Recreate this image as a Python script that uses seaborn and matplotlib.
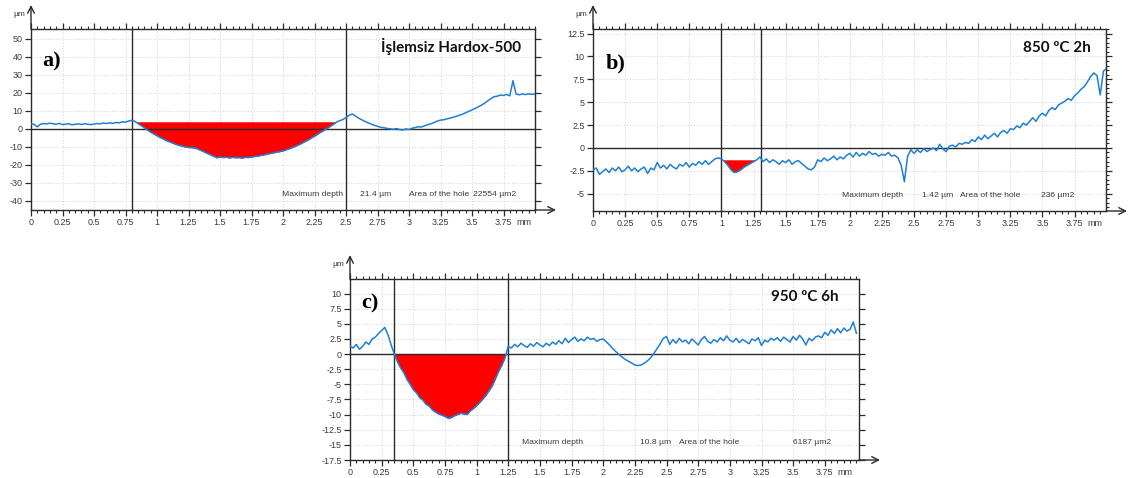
import numpy as np
import pandas as pd
import matplotlib
matplotlib.use("Agg")
import matplotlib.pyplot as plt
from matplotlib.ticker import MultipleLocator
import seaborn as sns

# ---------------- data ----------------
STEP_MM = 0.025  # sampling step of the profiles (mm)

# a) İşlemsiz Hardox-500 profile (µm)
a_depth = [3.0, 2.5, 1.2, 2.6, 3.0, 2.8, 3.2, 2.9, 2.6, 3.1,
           2.4, 2.7, 2.9, 2.3, 2.6, 2.8, 2.5, 2.9, 2.6, 2.4,
           2.7, 3.0, 2.8, 3.3, 3.0, 3.4, 3.1, 3.6, 3.4, 4.0,
           3.8, 4.4, 4.8, 4.2, 3.0, 1.8, 0.6, -0.6, -1.8, -2.8,
           -3.8, -4.8, -5.6, -6.5, -7.2, -7.9, -8.6, -9.1, -9.6, -10.0,
           -10.3, -10.4, -10.6, -11.2, -12.0, -12.8, -13.6, -14.4, -15.2, -16.0,
           -15.6, -15.9, -15.7, -16.1, -15.8, -16.0, -15.9, -16.2, -15.8, -15.9,
           -15.6, -15.3, -15.1, -14.7, -14.4, -14.0, -13.6, -13.3, -12.9, -12.6,
           -12.2, -11.6, -11.0, -10.3, -9.6, -8.8, -7.9, -7.0, -6.1, -5.0,
           -4.0, -2.9, -1.8, -0.8, 0.3, 1.4, 2.6, 3.8, 4.6, 5.2,
           6.4, 7.6, 8.3, 7.2, 6.0, 5.1, 4.2, 3.4, 2.7, 2.0,
           1.5, 0.9, 0.7, 0.3, 0.1, -0.2, 0.2, -0.3, -0.6, 0.0,
           -0.3, 0.4, 0.8, 1.2, 1.1, 1.8, 2.4, 2.9, 3.6, 4.4,
           4.9, 5.1, 5.6, 6.0, 6.5, 7.0, 7.6, 8.2, 9.0, 9.8,
           10.6, 11.4, 12.3, 13.2, 14.3, 15.6, 16.8, 17.9, 18.2, 18.8,
           18.6, 19.2, 18.4, 26.8, 19.3, 19.0, 19.4, 19.1, 19.5, 19.2,
           19.4]

# b) 850 ºC 2h profile (µm)
b_depth = [-2.4, -2.2, -2.9, -2.6, -2.3, -2.7, -2.2, -2.5, -2.1, -2.6,
           -2.4, -2.0, -2.5, -2.2, -2.6, -2.3, -2.1, -2.8, -2.2, -2.4,
           -1.6, -2.2, -1.9, -2.3, -1.8, -2.1, -2.3, -1.8, -2.0, -1.6,
           -2.1, -1.7, -1.9, -1.5, -1.8, -1.4, -1.8, -1.5, -1.2, -1.1,
           -1.2, -1.5, -1.9, -2.4, -2.7, -2.6, -2.4, -2.1, -1.9, -1.7,
           -1.5, -1.3, -1.0, -1.5, -1.2, -1.6, -1.3, -1.5, -1.8, -1.4,
           -1.6, -1.3, -1.8, -1.5, -1.4, -1.7, -2.0, -2.3, -2.4, -2.1,
           -1.3, -1.5, -1.1, -1.4, -1.2, -0.9, -1.3, -1.0, -1.2, -0.8,
           -0.6, -1.0, -0.5, -0.9, -0.6, -0.8, -0.4, -0.7, -0.6, -0.9,
           -0.7, -0.8, -0.5, -0.9, -0.8, -1.1, -1.9, -3.7, -0.9, -0.2,
           -0.6, -0.2, -0.5, -0.1, -0.4, -0.2, 0.0, -0.3, 0.4, -0.1,
           -0.4, 0.2, 0.3, 0.1, 0.5, 0.4, 0.6, 0.5, 0.9, 0.7,
           1.2, 0.9, 1.4, 1.0, 1.3, 1.6, 1.2, 1.7, 1.9, 1.6,
           2.1, 2.0, 2.4, 2.2, 2.7, 2.5, 2.9, 3.3, 2.9, 3.5,
           3.8, 3.5, 4.1, 4.4, 4.2, 4.7, 4.9, 5.1, 5.4, 5.2,
           5.7, 6.0, 6.4, 6.7, 7.2, 7.8, 8.2, 7.9, 5.8, 8.4,
           8.7]

# c) 950 ºC 6h profile (µm)
c_depth = [1.4, 1.0, 1.6, 0.8, 1.3, 2.0, 1.6, 2.5, 2.8, 3.4,
           3.9, 4.4, 3.2, 1.5, 0.0, -1.3, -2.3, -3.1, -4.2, -5.0,
           -5.9, -6.4, -7.2, -7.6, -8.3, -8.6, -9.2, -9.6, -9.9, -10.1,
           -10.3, -10.6, -10.5, -10.2, -10.0, -9.8, -9.9, -10.0, -9.4, -9.0,
           -8.5, -8.0, -7.4, -6.8, -6.0, -5.2, -4.0, -2.8, -1.8, -0.6,
           1.3, 1.0, 1.6, 1.2, 1.8, 1.4, 1.1, 1.7, 1.3, 1.9,
           1.5, 1.2, 1.8, 1.4, 2.0, 1.6, 2.2, 1.7, 2.6, 1.9,
           2.4, 2.8, 2.1, 2.5, 2.2, 2.8, 2.4, 2.6, 2.1, 2.4,
           2.5, 2.0, 1.5, 0.9, 0.4, -0.1, -0.5, -0.9, -1.2, -1.5,
           -1.8, -1.9, -1.8, -1.5, -1.1, -0.6, 0.1, 0.9, 1.7, 2.6,
           2.9, 1.6, 2.4, 1.8, 2.6, 2.0, 2.3, 1.7, 2.5, 2.0,
           1.5, 2.4, 2.9, 2.1, 1.8, 2.4, 2.0, 2.7, 2.2, 3.0,
           2.3, 2.0, 2.6, 1.9, 2.4, 2.1, 1.7, 2.5, 2.2, 2.7,
           1.4, 2.3, 2.0, 2.6, 2.3, 2.7, 2.1, 2.8, 2.4, 2.0,
           2.9, 2.3, 3.1, 2.5, 1.5, 2.6, 2.2, 2.8, 3.0, 2.7,
           3.6, 3.1, 4.0, 3.4, 4.2, 3.5, 4.3, 3.8, 4.1, 5.3,
           3.4]

labels = ["a)", "b)", "c)"]
titles = ["İşlemsiz Hardox-500", "850 ºC 2h", "950 ºC 6h"]
cursors = [(0.8, 2.5), (1.0, 1.31), (0.35, 1.25)]
fill_levels = [4.0, -1.3, 0.0]
max_depth = ["21.4 µm", "1.42 µm", "10.8 µm"]
hole_area = ["22554 µm2", "236 µm2", "6187 µm2"]
x_ticks = [0, 0.25, 0.5, 0.75, 1, 1.25, 1.5, 1.75, 2, 2.25, 2.5, 2.75, 3, 3.25, 3.5, 3.75]
x_tick_labels = ["0", "0.25", "0.5", "0.75", "1", "1.25", "1.5", "1.75", "2",
                 "2.25", "2.5", "2.75", "3", "3.25", "3.5", "3.75"]
y_ticks_a = [-40, -30, -20, -10, 0, 10, 20, 30, 40, 50]
y_ticks_b = [-5, -2.5, 0, 2.5, 5, 7.5, 10, 12.5]
y_ticks_c = [-17.5, -15, -12.5, -10, -7.5, -5, -2.5, 0, 2.5, 5, 7.5, 10]
y_tick_labels_a = ["-40", "-30", "-20", "-10", "0", "10", "20", "30", "40", "50"]
y_tick_labels_b = ["-5", "-2.5", "0", "2.5", "5", "7.5", "10", "12.5"]
y_tick_labels_c = ["-17.5", "-15", "-12.5", "-10", "-7.5", "-5", "-2.5", "0",
                   "2.5", "5", "7.5", "10"]

# ---------------- style ----------------
sns.set_theme(style="white")
plt.rcParams["font.family"] = ["Liberation Sans", "DejaVu Sans"]

BLUE = "#1f7fd4"
DARK = "#2b2b2b"
TXT = "#3a3a3a"

W, H = 1128, 478
fig = plt.figure(figsize=(W / 100, H / 100), dpi=100)
fig.patch.set_facecolor("white")

# axes boxes in pixels: left, top, right, bottom
boxes = [(31, 29, 535, 210), (593, 29, 1106, 211), (350, 279, 859, 460)]
ylims = [(-45, 55.5), (-6.9, 13.0), (-17.5, 12.4)]
xlims = [(0, 4.0), (0, 3.995), (0, 4.02)]
yt = [y_ticks_a, y_ticks_b, y_ticks_c]
ytl = [y_tick_labels_a, y_tick_labels_b, y_tick_labels_c]
ymin_step = [None, 0.5, None]
profiles = [a_depth, b_depth, c_depth]
label_pos = [(0.022, 0.82), (0.025, 0.81), (0.022, 0.865)]
title_pos = [(0.972, 0.905), (0.97, 0.895), (0.96, 0.90)]
text_y = [-36.5, -5.2, -14.6]
text_x = [(1.99, 2.61, 3.0, 3.51), (1.94, 2.56, 2.86, 3.49), (1.36, 2.29, 2.6, 3.5)]

for i in range(3):
    l, t, r, b = boxes[i]
    ax = fig.add_axes([l / W, 1 - b / H, (r - l) / W, (b - t) / H])
    ax.set_facecolor("white")
    y = np.array(profiles[i], dtype=float)
    x = np.arange(len(y)) * STEP_MM
    df = pd.DataFrame({"x": x, "y": y})

    # red hole area
    c1, c2 = cursors[i]
    lev = fill_levels[i]
    m = (x >= c1 - 1e-9) & (x <= c2 + 1e-9)
    ax.fill_between(x[m], y[m], lev, where=y[m] < lev, interpolate=True,
                    color="#ff0000", lw=0, zorder=2)

    sns.lineplot(data=df, x="x", y="y", ax=ax, color=BLUE, lw=1.1, zorder=3)

    ax.axhline(0, color=DARK, lw=1.0, zorder=2.5)
    for cx in cursors[i]:
        ax.axvline(cx, color=DARK, lw=1.0, zorder=2.5)

    ax.set_xlim(*xlims[i])
    ax.set_ylim(*ylims[i])
    ax.set_xticks(x_ticks)
    ax.set_xticklabels(x_tick_labels)
    ax.set_yticks(yt[i])
    ax.set_yticklabels(ytl[i])
    ax.xaxis.set_minor_locator(MultipleLocator(0.05))
    if ymin_step[i]:
        ax.yaxis.set_minor_locator(MultipleLocator(ymin_step[i]))
    ax.set_xlabel("")
    ax.set_ylabel("")
    ax.grid(True, which="major", color="#d9d9d9", ls=(0, (1, 1.5)), lw=0.8)
    ax.set_axisbelow(True)

    ax.tick_params(axis="x", which="major", direction="out", top=True, bottom=True,
                   length=4, width=0.9, color=DARK, labelsize=6.5, labelcolor=TXT, pad=2)
    ax.tick_params(axis="x", which="minor", direction="out", top=True, bottom=True,
                   length=2.5, width=0.8, color=DARK)
    ax.tick_params(axis="y", which="major", direction="out", left=True, right=True,
                   length=4, width=0.9, color=DARK, labelsize=6.5, labelcolor=TXT, pad=2)
    ax.tick_params(axis="y", which="minor", direction="out", left=False, right=True,
                   length=2.5, width=0.8, color=DARK)
    for s in ax.spines.values():
        s.set_color(DARK)
        s.set_linewidth(1.0)

    # axis arrows
    ax.annotate("", xy=(0, 1 + 24 / (b - t)), xytext=(0, 1), xycoords="axes fraction",
                arrowprops=dict(arrowstyle="->", lw=1.0, color=DARK,
                                shrinkA=0, shrinkB=0), annotation_clip=False)
    ax.annotate("", xy=(1 + 21 / (r - l), 0), xytext=(1, 0), xycoords="axes fraction",
                arrowprops=dict(arrowstyle="->", lw=1.0, color=DARK,
                                shrinkA=0, shrinkB=0), annotation_clip=False)
    ax.text(-0.012, 1 + 15 / (b - t), "µm", transform=ax.transAxes, ha="right",
            va="center", fontsize=6, color=TXT)
    ax.text(3.75 + 0.1, -0.045, "mm", transform=ax.get_xaxis_transform(),
            ha="left", va="top", fontsize=6.5, color=TXT)

    # panel label and condition
    ax.text(*label_pos[i], labels[i], transform=ax.transAxes, ha="left", va="center",
            fontsize=16, fontweight="bold", family=["Liberation Serif", "DejaVu Serif"],
            color="black")
    ax.text(*title_pos[i], titles[i], transform=ax.transAxes, ha="right", va="center",
            fontsize=11, fontweight="bold", family=["Lato", "Open Sans", "DejaVu Sans"],
            color="#111111")

    tx = text_x[i]
    for xx, s in zip(tx, ["Maximum depth", max_depth[i], "Area of the hole", hole_area[i]]):
        ax.text(xx, text_y[i], s, ha="left", va="center", fontsize=6.1, color=TXT,
                zorder=4)

fig.savefig("out.png", dpi=100, facecolor="white")
